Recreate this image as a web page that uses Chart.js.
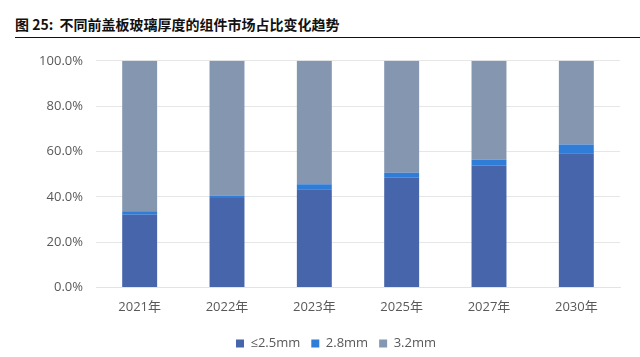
<!DOCTYPE html>
<html>
<head>
<meta charset="utf-8">
<script src="https://cdn.jsdelivr.net/npm/chart.js@4.4.1/dist/chart.umd.min.js"></script>
<style>
body{margin:0;background:#fff;width:640px;height:357px;overflow:hidden}
#title{position:absolute;left:15px;top:13px;width:625px;height:24px;border-bottom:1.5px solid #111;
font-family:"Noto Sans CJK SC","Noto Sans",sans-serif;font-weight:bold;font-size:14px;color:#111;line-height:22px}
#wrap{position:absolute;left:0;top:40px;width:640px;height:317px}
</style>
</head>
<body>
<div id="title">图 25:&nbsp; 不同前盖板玻璃厚度的组件市场占比变化趋势</div>
<div id="wrap"><canvas id="myChart"></canvas></div>
<script>
// 年份
const years = ["2021年","2022年","2023年","2025年","2027年","2030年"]
// 各厚度占比 (%)
const thin25 = [32.1, 39.5, 43.3, 48.4, 53.7, 59.2]
const mid28 = [1.5, 1.1, 2.2, 2.2, 2.6, 3.9]
const thick32 = [66.4, 59.4, 54.5, 49.4, 43.7, 36.9]
const seriesNames = ["≤2.5mm","2.8mm","3.2mm"]
const colors = ["#4665AB","#2F7DD7","#8496B0"]

const ctx = document.getElementById('myChart')

// nudge the legend a bit right and down like in the original
const legendShift = {
  id: 'legendShift',
  afterLayout(chart) {
    const lg = chart.legend
    lg.left += 26; lg.right += 26
    lg.top += 3; lg.bottom += 3
  }
}

let myChart = new Chart(ctx, {
  type: "bar",
  data: {
    labels: years,
    datasets: [
      {label: seriesNames[0], data: thin25, backgroundColor: colors[0]},
      {label: seriesNames[1], data: mid28, backgroundColor: colors[1]},
      {label: seriesNames[2], data: thick32, backgroundColor: colors[2]}
    ]
  },
  options: {
    responsive: true,
    maintainAspectRatio: false,
    animation: false,
    datasets: {bar: {categoryPercentage: 1, barPercentage: 0.4}},
    layout: {padding: {left: 0, right: 20, top: 14, bottom: 0}},
    scales: {
      x: {
        stacked: true,
        afterFit: s => { s.height = 35.5 },
        grid: {display: false},
        border: {color: "#E3E3E3"},
        ticks: {color: "#595959", font: {family: "'Open Sans', 'Noto Sans CJK SC', sans-serif", size: 13}, padding: 3.5}
      },
      y: {
        stacked: true,
        min: 0, max: 100,
        afterFit: s => { s.width = 96 },
        grid: {color: "#E6E6E6", drawTicks: false},
        border: {display: false},
        ticks: {
          stepSize: 20,
          padding: 13,
          color: "#595959",
          font: {family: "'Open Sans', sans-serif", size: 13},
          callback: v => v.toFixed(1) + "%"
        }
      }
    },
    plugins: {
      tooltip: {enabled: false},
      legend: {
        position: "bottom",
        labels: {
          boxWidth: 8, boxHeight: 8, padding: 11,
          color: "#595959",
          font: {family: "'Open Sans', sans-serif", size: 13}
        }
      }
    }
  },
  plugins: [legendShift]
})
</script>
</body>
</html>
